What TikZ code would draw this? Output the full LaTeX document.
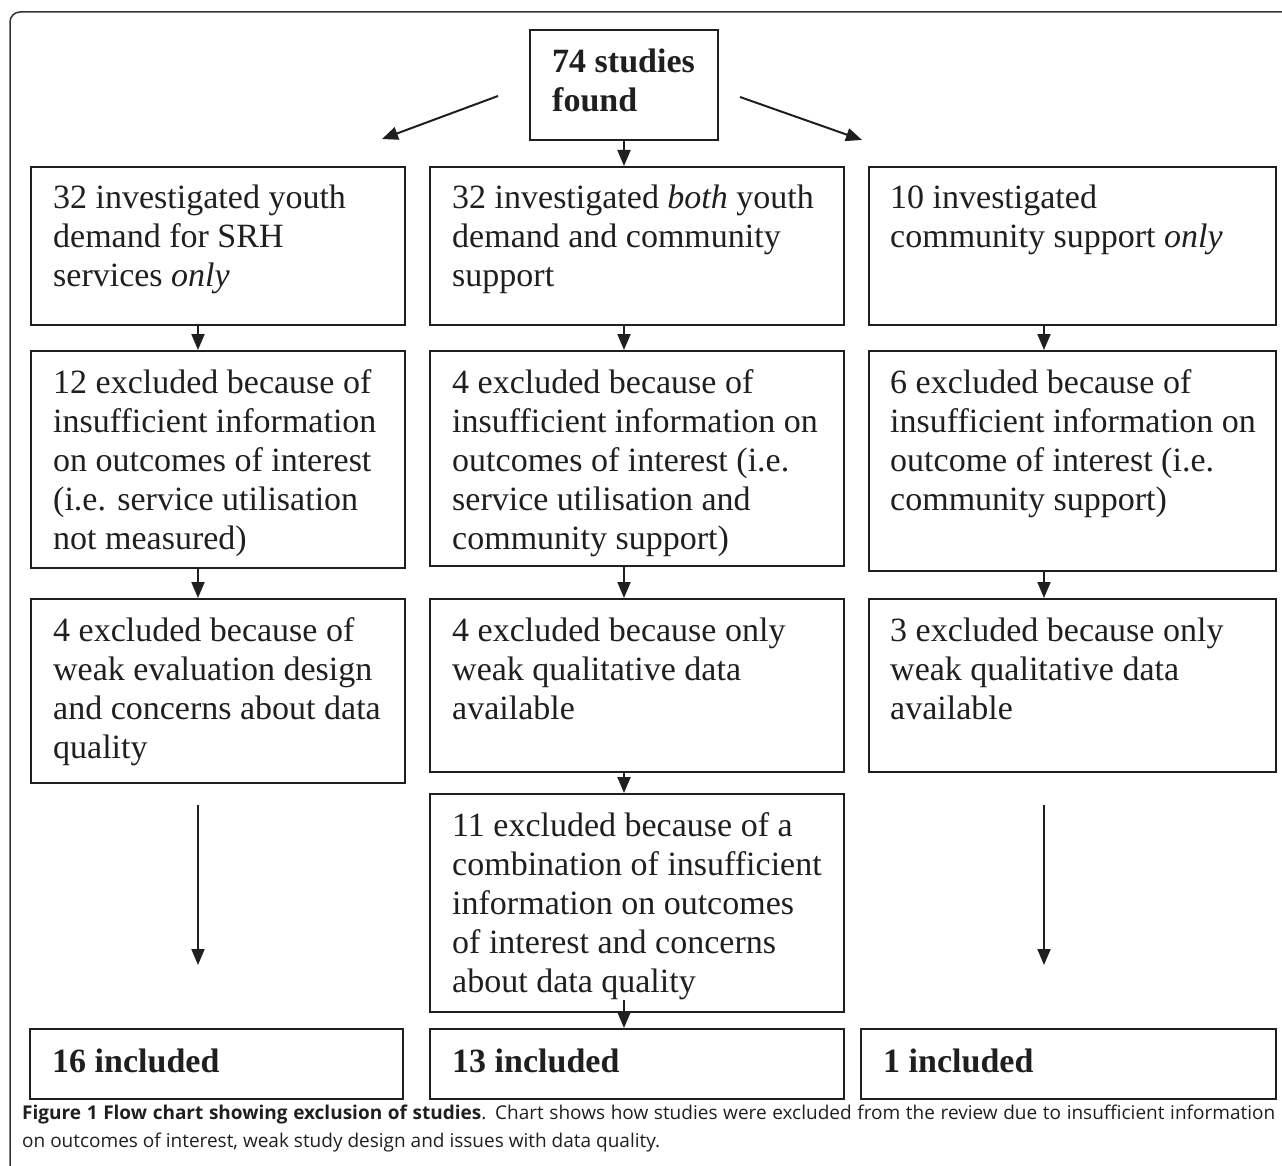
\documentclass[tikz,border=0pt]{standalone}
\usepackage{fontspec}
\setmainfont{Liberation Serif}
\newfontfamily\capfont{Open Sans}
\usetikzlibrary{arrows.meta,calc}
\tikzset{
  box/.style={draw=black!88, line width=2pt, inner sep=0pt, anchor=north west},
  txt/.style={inner sep=0pt, anchor=base west, font=\fontsize{34}{39}\selectfont, text=black!88},
  arr/.style={draw=black!88, line width=2pt, -{Triangle[length=16pt,width=13pt]}},
  frame/.style={draw=black!80, line width=1.5pt, rounded corners=10pt}
}
\newcommand\boxtext[1]{\parbox[t]{15cm}{\raggedright #1}}
\begin{document}
\begin{tikzpicture}[x=1pt,y=-1pt]
\useasboundingbox (0,0) rectangle (1282,1166);
% outer frame
\draw[frame] (1290,12) -- (10,12) -- (10,1175);

% top box
\node[box, minimum width=188, minimum height=110] (t) at (529,29) {};
\node[txt, font=\fontsize{34}{39}\selectfont\bfseries] (tt) at ($(t.north west)+(23,44)$) {\boxtext{74 studies\\found}};

% row 1
\node[box, minimum width=374, minimum height=158] (l1) at (30,166) {};
\node[box, minimum width=414, minimum height=158] (m1) at (429,166) {};
\node[box, minimum width=407, minimum height=158] (r1) at (868,166) {};
\node[txt] (l1t) at ($(l1.north west)+(23,43)$) {\boxtext{32 investigated youth\\demand for SRH\\services \textit{only}}};
\node[txt] (m1t) at ($(m1.north west)+(23,43)$) {\boxtext{32 investigated \textit{both} youth\\demand and community\\support}};
\node[txt] (r1t) at ($(r1.north west)+(22,43)$) {\boxtext{10 investigated\\community support \textit{only}}};

% row 2
\node[box, minimum width=374, minimum height=217] (l2) at (30,350) {};
\node[box, minimum width=414, minimum height=215] (m2) at (429,350) {};
\node[box, minimum width=407, minimum height=220] (r2) at (868,350) {};
\node[txt] (l2t) at ($(l2.north west)+(23,43)$) {\boxtext{12 excluded because of\\insufficient information\\on outcomes of interest\\(i.e. service utilisation\\not measured)}};
\node[txt] (m2t) at ($(m2.north west)+(23,43)$) {\boxtext{4 excluded because of\\insufficient information on\\outcomes of interest (i.e.\\service utilisation and\\community support)}};
\node[txt] (r2t) at ($(r2.north west)+(22,43)$) {\boxtext{6 excluded because of\\insufficient information on\\outcome of interest (i.e.\\community support)}};

% row 3
\node[box, minimum width=374, minimum height=184] (l3) at (30,598) {};
\node[box, minimum width=414, minimum height=173] (m3) at (429,598) {};
\node[box, minimum width=407, minimum height=173] (r3) at (868,598) {};
\node[txt] (l3t) at ($(l3.north west)+(23,43)$) {\boxtext{4 excluded because of\\weak evaluation design\\and concerns about data\\quality}};
\node[txt] (m3t) at ($(m3.north west)+(23,43)$) {\boxtext{4 excluded because only\\weak qualitative data\\available}};
\node[txt] (r3t) at ($(r3.north west)+(22,43)$) {\boxtext{3 excluded because only\\weak qualitative data\\available}};

% row 4
\node[box, minimum width=414, minimum height=218] (m4) at (429,793) {};
\node[txt] (m4t) at ($(m4.north west)+(23,43)$) {\boxtext{11 excluded because of a\\combination of insufficient\\information on outcomes\\of interest and concerns\\about data quality}};

% row 5
\node[box, minimum width=373, minimum height=70] (l5) at (29,1028) {};
\node[box, minimum width=414, minimum height=70] (m5) at (429,1028) {};
\node[box, minimum width=415, minimum height=70] (r5) at (860,1028) {};
\node[txt, font=\fontsize{34}{39}\selectfont\bfseries] (l5t) at ($(l5.north west)+(23,44)$) {16 included};
\node[txt, font=\fontsize{34}{39}\selectfont\bfseries] (m5t) at ($(m5.north west)+(23,44)$) {13 included};
\node[txt, font=\fontsize{34}{39}\selectfont\bfseries] (r5t) at ($(r5.north west)+(23,44)$) {1 included};

% connectors
\coordinate (da1) at (498,96);
\coordinate (da2) at (382,139);
\coordinate (db1) at (740,97);
\coordinate (db2) at (862,140);
\draw[arr] (da1) -- (da2);
\draw[arr] (db1) -- (db2);
\draw[arr] (t.south) -- (t.south |- m1.north);

\draw[arr] ([xshift=168pt]l1.south west) -- ([xshift=168pt]l2.north west);
\draw[arr] ([xshift=195pt]m1.south west) -- ([xshift=195pt]m2.north west);
\draw[arr] ([xshift=176pt]r1.south west) -- ([xshift=176pt]r2.north west);

\draw[arr] ([xshift=168pt]l2.south west) -- ([xshift=168pt]l3.north west);
\draw[arr] ([xshift=195pt]m2.south west) -- ([xshift=195pt]m3.north west);
\draw[arr] ([xshift=176pt]r2.south west) -- ([xshift=176pt]r3.north west);

\draw[arr] ([xshift=195pt]m3.south west) -- ([xshift=195pt]m4.north west);

\coordinate (la) at (198,805);
\coordinate (lb) at (198,965);
\coordinate (ra) at (1044,805);
\coordinate (rb) at (1044,965);
\draw[arr] (la) -- (lb);
\draw[arr] (ra) -- (rb);
\coordinate (m4s) at (624,1000);
\draw[arr] (m4s) -- ([xshift=195pt]m5.north west);

% caption
\node[inner sep=0pt, anchor=base west, text width=1253pt, align=justify,
      font=\capfont\fontsize{19}{28}\selectfont, text=black!88] (cap) at (22,1119)
  {\textbf{Figure 1 Flow chart showing exclusion of studies}. Chart shows how studies were excluded from the review due to insufficient information\linebreak on outcomes of interest, weak study design and issues with data quality.};
\end{tikzpicture}
\end{document}
